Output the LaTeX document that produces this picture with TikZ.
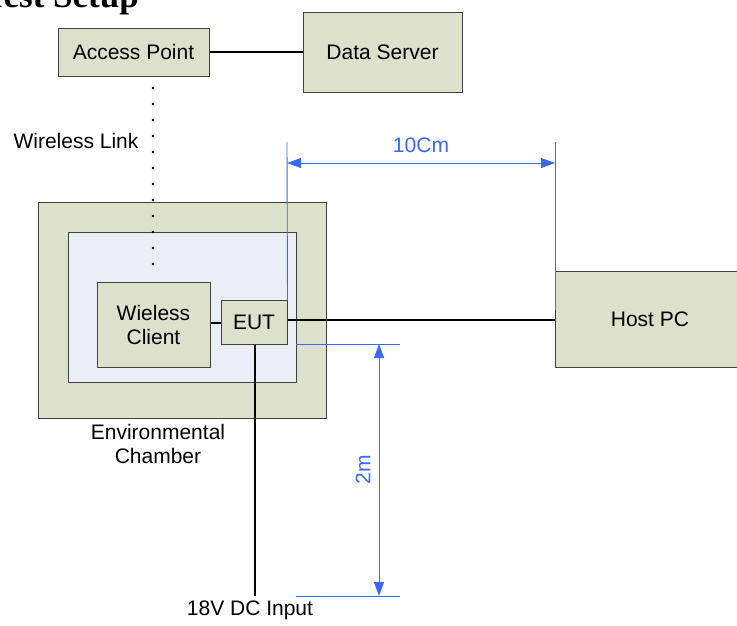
\documentclass[tikz,border=0pt]{standalone}
\usepackage{fontspec}
\setmainfont{Liberation Sans}
\newfontfamily\titlefont{Liberation Serif}
\usetikzlibrary{arrows.meta}
\definecolor{boxfill}{RGB}{221,224,203}
\definecolor{innerfill}{RGB}{234,239,247}
\definecolor{dimblue}{RGB}{58,104,250}
\begin{document}
\begin{tikzpicture}[x=1pt,y=-1pt,
  box/.style={draw=black!75,line width=1pt,fill=boxfill,rectangle,inner sep=0pt,align=center,
    font=\fontsize{21}{24}\selectfont},
  lbl/.style={inner sep=0pt,align=center,font=\fontsize{21}{24}\selectfont},
  wire/.style={draw=black,line width=1.6pt},
  dimline/.style={draw=dimblue,line width=0.9pt},
  dimarrow/.style={draw=dimblue,line width=0.9pt,{Triangle[length=14pt,width=10pt,fill=dimblue]}-{Triangle[length=14pt,width=10pt,fill=dimblue]}},
  dimtext/.style={text=dimblue,inner sep=0pt,font=\fontsize{21}{24}\selectfont}]
\useasboundingbox (0,0) rectangle (737,625);
\fill[white] (0,0) rectangle (737,625);

% title (cut at top of page)
\node[anchor=base east,inner sep=0pt,font=\titlefont\bfseries\fontsize{35}{40}\selectfont] (title) at (139,7) {Test Setup};

% boxes
\node[box,minimum width=151pt,minimum height=48pt] (ap) at (133.5,52) {Access Point};
\node[box,minimum width=159pt,minimum height=80pt] (ds) at (382.5,52) {Data Server};
\node[box,minimum width=288pt,minimum height=216pt] (outer) at (182,310) {};
\node[box,fill=innerfill,minimum width=228pt,minimum height=150pt] (inner) at (182,307) {};
\node[box,minimum width=113pt,minimum height=85pt] (client) at (153.5,324.5) {Wieless\\Client};
\node[box,minimum width=66pt,minimum height=44pt] (eut) at (254,322) {EUT};
\node[box,minimum width=190pt,minimum height=96pt] (host) at (650,319) {Host PC};

% labels
\node[lbl] (wl) at (76,141) {Wireless Link};
\node[lbl] (env) at (158,444) {Environmental\\Chamber};
\node[lbl] (dc) at (250,610) {18V DC Input};

% wires
\draw[wire] (ap.east) -- (ds.west |- ap.east);
\draw[wire] (client.east |- 0,323) -- (eut.west |- 0,323);
\draw[wire] (eut.east |- 0,320) -- (host.west |- 0,320);
\coordinate (dcend) at (255,596);
\draw[wire] (eut.south -| dcend) -- (dcend);
\draw[line width=2.6pt,dash pattern=on 0pt off 16pt,line cap=round] (153,88) -- (153,276);

% dimension 10Cm
\coordinate (d1top) at (287,142);
\coordinate (d2top) at (555,142);
\draw[dimline] (d1top) -- (eut.north east);
\draw[dimline] (d2top) -- (555,310);
\draw[dimarrow] (287,163) -- (555,163);
\node[dimtext] (dimA) at (421,145) {10Cm};

% dimension 2m
\coordinate (h1a) at (296,344);
\coordinate (h1b) at (400,344);
\coordinate (h2a) at (296,596);
\coordinate (h2b) at (400,596);
\draw[dimline] (h1a) -- (h1b);
\draw[dimline] (h2a) -- (h2b);
\draw[dimarrow] (379,344) -- (379,596);
\node[dimtext,rotate=90] (dimB) at (363,470) {2m};
\end{tikzpicture}
\end{document}
